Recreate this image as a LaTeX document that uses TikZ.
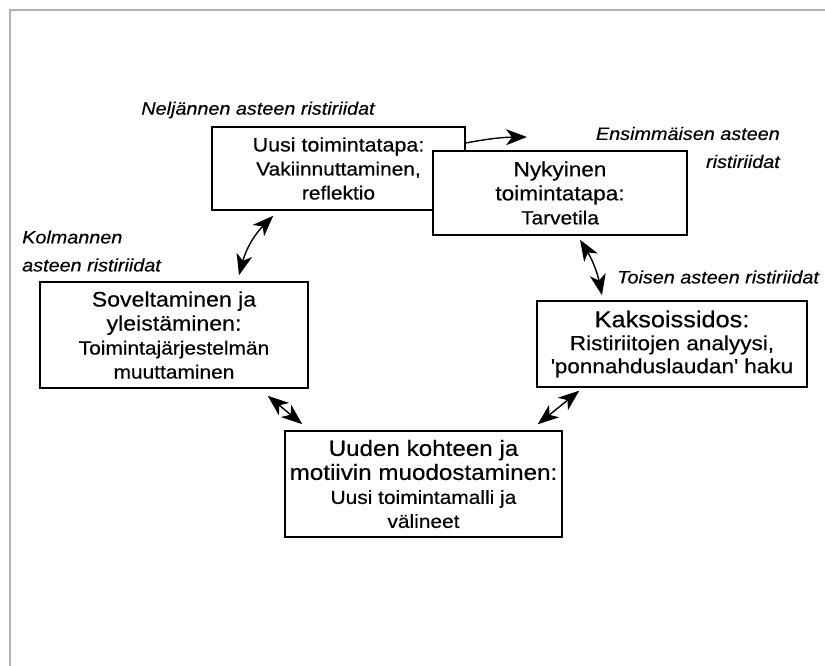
\documentclass[tikz,border=0pt]{standalone}
\usepackage{fontspec}
\setmainfont{Liberation Sans}[FakeStretch=1.1, FakeBold=0.4]
\usetikzlibrary{arrows.meta}

\newcommand{\hd}[2]{{\fontsize{#1}{24}\selectfont #2}}

\begin{document}
\begin{tikzpicture}[x=1pt, y=-1pt,
  stage/.style 2 args={draw, line width=1.5pt, fill=white, align=center, inner sep=0pt,
    minimum width=#1, minimum height=#2, font=\fontsize{19}{24}\selectfont},
  degree/.style={font=\fontsize{18}{28}\selectfont\itshape, inner sep=0pt},
  barb/.tip={Stealth[length=21pt,width=16pt,inset=6pt]},
  single/.style={line width=1.4pt, -barb},
  trans/.style={line width=1.4pt, barb-barb}]

\useasboundingbox (0,0) rectangle (825,666);
\draw[gray!60, line width=1.2pt] (10,666) -- (10,10) -- (825,10);

\node [stage={253}{83}] (uusi) at (338.5,168.5)
  {\hd{19.5}{Uusi toimintatapa:}\\ Vakiinnuttaminen,\\ reflektio};
\node [stage={254}{84}] (nyk) at (560,193)
  {\hd{20.5}{Nykyinen}\\ \hd{20.5}{toimintatapa:}\\ Tarvetila};
\node [stage={268}{106}] (sovel) at (174,335)
  {\hd{21}{Soveltaminen ja}\\ \hd{21}{yleistäminen:}\\ Toimintajärjestelmän\\ muuttaminen};
\node [stage={270}{86}, font=\fontsize{20.5}{23}\selectfont] (kaks) at (672,344)
  {\hd{23}{Kaksoissidos:}\\ Ristiriitojen analyysi,\\ \textquotesingle ponnahduslaudan\textquotesingle\ haku};
\node [stage={277}{106}] (uuden) at (423.5,484)
  {\hd{22}{Uuden kohteen ja}\\ \hd{22}{motiivin muodostaminen:}\\ Uusi toimintamalli ja\\ välineet};

\node [degree] (neljas) at (258,110) {Neljännen asteen ristiriidat};
\node [degree, anchor=east, align=right] (ensim) at (780,147.5) {Ensimmäisen asteen\\ ristiriidat};
\node [degree, anchor=west, align=left] (kolmas) at (22,251) {Kolmannen\\ asteen ristiriidat};
\node [degree, anchor=west] (toinen) at (617,277) {Toisen asteen ristiriidat};

\coordinate (kohti) at (527,137);

\draw[single] ([yshift=25.5pt]uusi.east) to [bend left=5] (kohti);
\draw[trans] ([xshift=62pt,yshift=-5pt]uusi.south west) to [bend right=15] ([xshift=65pt,yshift=6pt]sovel.north);
\draw[trans] ([xshift=20pt,yshift=-4pt]nyk.south) to [bend left=10] ([xshift=-70pt,yshift=5pt]kaks.north);
\draw[trans] ([xshift=-41pt,yshift=-7pt]sovel.south east) -- ([xshift=18pt,yshift=6pt]uuden.north west);
\draw[trans] ([xshift=43pt,yshift=-3pt]kaks.south west) -- ([xshift=-25pt,yshift=6pt]uuden.north east);

\end{tikzpicture}
\end{document}
